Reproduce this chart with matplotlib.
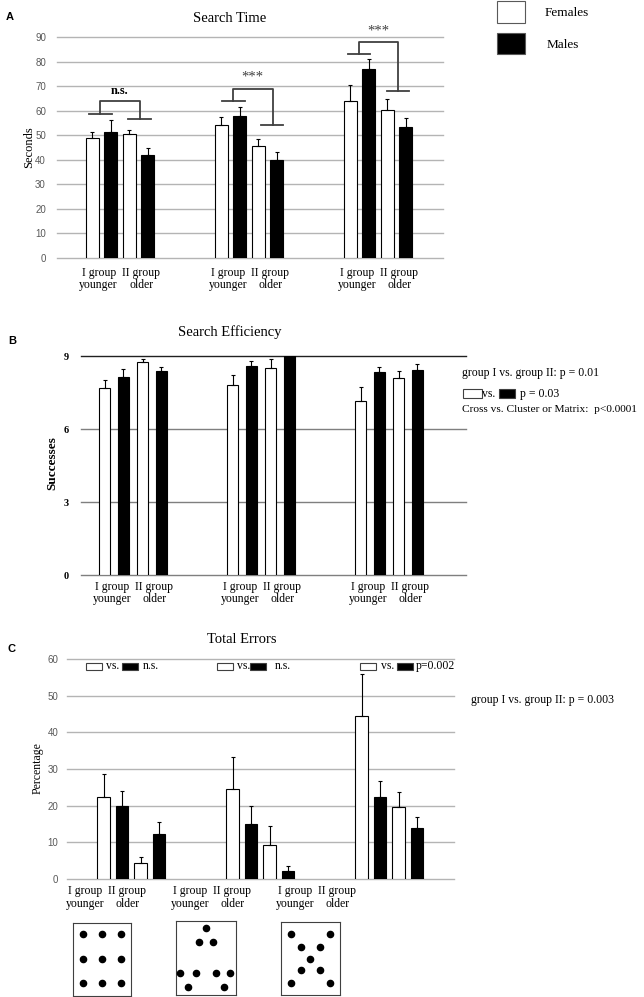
import numpy as np
import matplotlib.pyplot as plt
from matplotlib.patches import Rectangle
from matplotlib.transforms import blended_transform_factory

W, H = 644, 997

# layouts shown under panel C
groups = ["Matrix", "Cluster", "Cross"]
bar_colors = ["white", "black", "white", "black"]  # F young, M young, F old, M old

# Search time (seconds)
time_means = [
    [48.8, 54.0, 64.0],   # females, group I younger
    [51.5, 58.0, 77.0],   # males, group I younger
    [50.3, 45.5, 60.2],   # females, group II older
    [41.8, 39.8, 53.4],   # males, group II older
]
time_err = [
    [2.7, 3.3, 6.3],
    [4.7, 3.4, 4.0],
    [1.7, 3.1, 4.4],
    [3.1, 3.5, 3.5],
]
time_sig = ["n.s.", "***", "***"]
time_brackets = [(58.7, 64.0, 56.7), (64.0, 69.0, 54.0), (83.0, 88.0, 68.0)]

# Search efficiency (successes)
eff_means = [
    [7.67, 7.81, 7.17],
    [8.15, 8.58, 8.36],
    [8.74, 8.52, 8.08],
    [8.37, 9.00, 8.44],
]
eff_err = [
    [0.34, 0.40, 0.54],
    [0.30, 0.23, 0.20],
    [0.12, 0.34, 0.29],
    [0.19, 0.00, 0.22],
]

# Total errors (percentage)
errors_means = [
    [22.3, 24.5, 44.4],
    [20.0, 14.9, 22.3],
    [4.2, 9.1, 19.6],
    [12.3, 2.2, 14.0],
]
errors_err = [
    [6.2, 8.9, 11.6],
    [4.1, 4.9, 4.3],
    [1.8, 5.4, 4.2],
    [3.2, 1.4, 2.9],
]
errors_sig = ["n.s.", "n.s.", "p=0.002"]

# dot layouts of the three stimulus cards (x, y inside the card, 0..1)
matrix_x = [0.17, 0.5, 0.83, 0.17, 0.5, 0.83, 0.17, 0.5, 0.83]
matrix_y = [0.84, 0.84, 0.84, 0.5, 0.5, 0.5, 0.17, 0.17, 0.17]
cluster_x = [0.5, 0.375, 0.62, 0.067, 0.325, 0.665, 0.905, 0.2, 0.794]
cluster_y = [0.913, 0.715, 0.715, 0.303, 0.303, 0.303, 0.303, 0.109, 0.109]
cross_x = [0.165, 0.835, 0.336, 0.67, 0.5, 0.336, 0.67, 0.165, 0.835]
cross_y = [0.832, 0.832, 0.659, 0.659, 0.491, 0.337, 0.337, 0.168, 0.168]

SERIF = "Liberation Serif"
SANS = "Liberation Sans"
plt.rcParams["font.family"] = SERIF


def fx(x):
    return x / W


def fy(y):
    return 1 - y / H


def fig_box(fig, x0, y0, x1, y1, fc, ec="#404040"):
    fig.add_artist(Rectangle((fx(x0), fy(y1)), (x1 - x0) / W, (y1 - y0) / H,
                             transform=fig.transFigure, fc=fc, ec=ec, lw=0.8))


def make_axes(fig, x0, x1, y_top, y_bottom):
    return fig.add_axes([fx(x0), fy(y_bottom), (x1 - x0) / W, (y_bottom - y_top) / H])


def draw_panel(ax, means, errs, offsets, width, xlim, yticks, line_colors):
    x = np.arange(len(groups))
    for vals, err, off, c in zip(means, errs, offsets, bar_colors):
        ax.bar(x + off, vals, width, color=c, edgecolor="black", linewidth=0.8, zorder=3)
        ax.errorbar(x + off, vals, yerr=[np.zeros(len(err)), err], fmt="none",
                    ecolor="black", elinewidth=0.8, capsize=1.6, capthick=0.8, zorder=4)
    ax.set_xlim(xlim)
    ax.set_ylim(yticks[0], yticks[-1])
    ax.set_xticks([])
    ax.set_yticks(yticks)
    for s in ax.spines.values():
        s.set_visible(False)
    for t, c in zip(yticks, line_colors):
        ax.axhline(t, color=c, lw=1.0, zorder=1, clip_on=False)
    ax.tick_params(axis="y", length=0)


def group_labels(fig, ax, centers, y_px, half=0.165):
    tr = blended_transform_factory(ax.transData, fig.transFigure)
    for c in centers:
        fig.text(c - half, fy(y_px), "I group\nyounger", transform=tr, ha="center",
                 va="center", fontsize=8.5, linespacing=1.05)
        fig.text(c + half, fy(y_px), "II group\nolder", transform=tr, ha="center",
                 va="center", fontsize=8.5, linespacing=1.05)


fig = plt.figure(figsize=(W / 100, H / 100), dpi=100)
offsets = [-0.215, -0.072, 0.072, 0.215]

# ---------------- A: search time ----------------
axA = make_axes(fig, 57, 443, 37, 258)
draw_panel(axA, time_means, time_err, offsets, 0.1, (-0.488, 2.504),
           list(range(0, 100, 10)), ["#b4b4b4"] * 10)
for lab in axA.get_yticklabels():
    lab.set_fontfamily(SANS)
    lab.set_fontsize(7)
    lab.set_color("#595959")
axA.tick_params(axis="y", pad=8)

bracket_x = [(-0.24, -0.062, -0.155, 0.155, 0.062, 0.24),
             (-0.209, -0.031, -0.124, 0.184, 0.093, 0.264),
             (-0.233, -0.062, -0.147, 0.155, 0.07, 0.24)]
sig_pos = [(0.0, 68.0), (0.023, 73.5), (0.0, 92.5)]
for g, ((l0, l1, v0, v1, r0, r1), (yl, yt, yr), s, (dx, ys)) in enumerate(
        zip(bracket_x, time_brackets, time_sig, sig_pos)):
    kw = dict(color="#404040", lw=1.3, clip_on=False, zorder=5)
    axA.plot([g + l0, g + l1], [yl, yl], **kw)
    axA.plot([g + v0, g + v0, g + v1, g + v1], [yl, yt, yt, yr], **kw)
    axA.plot([g + r0, g + r1], [yr, yr], **kw)
    if s == "n.s.":
        axA.text(g + dx, ys, s, ha="center", va="center", fontsize=9,
                 fontweight="bold", clip_on=False)
    else:
        axA.text(g + dx, ys, s, ha="center", va="center", fontsize=10.5,
                 color="#404040", clip_on=False)

group_labels(fig, axA, np.arange(3), 279)
fig.text(fx(230), fy(18), "Search Time", ha="center", va="center", fontsize=10.5)
fig.text(fx(10), fy(17), "A", ha="center", va="center", fontsize=8,
         fontweight="bold", family=SANS)
fig.text(fx(29), fy(147), "Seconds", ha="center", va="center", rotation=90, fontsize=9)

# legend
fig_box(fig, 497, 1, 525, 23, "white", ec="#595959")
fig_box(fig, 497, 33, 525, 54, "black", ec="#595959")
fig.text(fx(545), fy(13), "Females", ha="left", va="center", fontsize=9.5)
fig.text(fx(547), fy(45), "Males", ha="left", va="center", fontsize=9.5)

# ---------------- B: search efficiency ----------------
axB = make_axes(fig, 81, 466, 356, 575.3)
draw_panel(axB, eff_means, eff_err, [-0.22, -0.075, 0.075, 0.22], 0.086,
           (-0.406, 2.602), [0, 3, 6, 9], ["#7f7f7f", "#7f7f7f", "#7f7f7f", "#202020"])
for lab in axB.get_yticklabels():
    lab.set_fontweight("bold")
    lab.set_fontsize(7.5)
axB.tick_params(axis="y", pad=9)

group_labels(fig, axB, np.arange(3), 593)
fig.text(fx(230), fy(332), "Search Efficiency", ha="center", va="center", fontsize=10.5)
fig.text(fx(12), fy(341), "B", ha="center", va="center", fontsize=8,
         fontweight="bold", family=SANS)
fig.text(fx(52), fy(463), "Successes", ha="center", va="center", rotation=90,
         fontsize=9.5, fontweight="bold")

fig.text(fx(462), fy(373), "group I vs. group II: p = 0.01", ha="left", va="center",
         fontsize=8.5)
fig_box(fig, 463, 389, 481.7, 398.3, "white")
fig.text(fx(482), fy(394), "vs.", ha="left", va="center", fontsize=8.5)
fig_box(fig, 499, 389, 515, 398.3, "black")
fig.text(fx(520), fy(394), "p = 0.03", ha="left", va="center", fontsize=8.5)
fig.text(fx(462), fy(409), "Cross vs. Cluster or Matrix:  p<0.0001", ha="left",
         va="center", fontsize=8.2)

# ---------------- C: total errors ----------------
axC = make_axes(fig, 66.7, 454, 659.3, 878.7)
draw_panel(axC, errors_means, errors_err, offsets, 0.1, (-0.501, 2.502),
           list(range(0, 70, 10)), ["#b4b4b4"] * 7)
for lab in axC.get_yticklabels():
    lab.set_fontfamily(SANS)
    lab.set_fontsize(7)
    lab.set_color("#595959")
axC.tick_params(axis="y", pad=6)

# group labels of panel C sit left of the bars in the original
c_label_px = [106, 211, 316]
c_centers = [(p - 131.3) / 129 for p in c_label_px]
group_labels(fig, axC, c_centers, 897.5)
fig.text(fx(242), fy(639), "Total Errors", ha="center", va="center", fontsize=10.5)
fig.text(fx(12), fy(649), "C", ha="center", va="center", fontsize=8,
         fontweight="bold", family=SANS)
fig.text(fx(38), fy(768), "Percentage", ha="center", va="center", rotation=90, fontsize=8.5)

sig_rows = [(86, 106, 122.3, 142.7), (217, 237, 250, 275), (360, 381, 396.7, 415.7)]
for (wb, vs, bb, st), s in zip(sig_rows, errors_sig):
    fig_box(fig, wb, 662.7, wb + 16, 670, "white")
    fig.text(fx(vs), fy(666), "vs.", ha="left", va="center", fontsize=8.5)
    fig_box(fig, bb, 662.7, bb + 16, 670, "black")
    fig.text(fx(st), fy(666), s, ha="left", va="center", fontsize=8.5)
fig.text(fx(471), fy(700), "group I vs. group II: p = 0.003", ha="left", va="center",
         fontsize=8.5)

# ---------------- stimulus cards ----------------
cards = [(72.7, 130.7, 922.7, 995.7, matrix_x, matrix_y),
         (176.3, 236, 921.3, 995, cluster_x, cluster_y),
         (281, 339.7, 921.7, 995, cross_x, cross_y)]
for x0, x1, y0, y1, dx, dy in cards:
    ax = make_axes(fig, x0, x1, y0, y1)
    ax.scatter(dx, dy, s=20, color="black", zorder=3)
    ax.set_xlim(0, 1)
    ax.set_ylim(0, 1)
    ax.set_xticks([])
    ax.set_yticks([])
    for s in ax.spines.values():
        s.set_color("#404040")
        s.set_linewidth(0.8)

fig.savefig("out.png", dpi=100)
